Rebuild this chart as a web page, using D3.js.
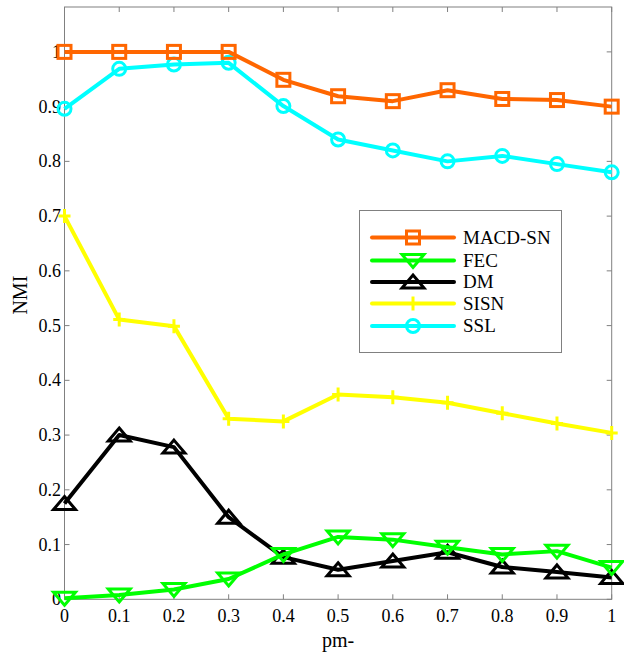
<!DOCTYPE html>
<meta charset="utf-8">
<style>
    body { margin: 0; background: #fff; }
    text { font-family: "Liberation Serif", "Times New Roman", serif; fill: #000; }
</style>
<body>
<script src="https://d3js.org/d3.v7.min.js"></script>
<script>
    var pm = [0, 0.1, 0.2, 0.3, 0.4, 0.5, 0.6, 0.7, 0.8, 0.9, 1];
    var macdsn = [1.0, 1.0, 1.0, 1.0, 0.949, 0.919, 0.910, 0.930, 0.914, 0.912, 0.900];
    var fec = [0.002, 0.008, 0.018, 0.037, 0.082, 0.114, 0.109, 0.095, 0.082, 0.088, 0.058];
    var dm = [0.175, 0.300, 0.278, 0.150, 0.077, 0.054, 0.070, 0.086, 0.059, 0.050, 0.040];
    var sisn = [0.700, 0.511, 0.499, 0.330, 0.325, 0.374, 0.369, 0.359, 0.340, 0.321, 0.304];
    var ssl = [0.896, 0.969, 0.977, 0.980, 0.901, 0.840, 0.820, 0.800, 0.810, 0.795, 0.780];
    var xTicks = [0, 0.1, 0.2, 0.3, 0.4, 0.5, 0.6, 0.7, 0.8, 0.9, 1];
    var yTicks = [0, 0.1, 0.2, 0.3, 0.4, 0.5, 0.6, 0.7, 0.8, 0.9, 1];

    var series = [
        { name: "MACD-SN", values: macdsn, color: "#ff6600", marker: "square" },
        { name: "FEC", values: fec, color: "#00ff00", marker: "down" },
        { name: "DM", values: dm, color: "#000000", marker: "up" },
        { name: "SISN", values: sisn, color: "#ffff00", marker: "plus" },
        { name: "SSL", values: ssl, color: "#00ffff", marker: "circle" }
    ];
    // draw order (FEC sits above DM in the picture)
    var drawOrder = [2, 1, 3, 4, 0];

    var width = 624, height = 654;
    var pLeft = 64.5, pRight = 611.7, pTop = 7, pBottom = 599.3;

    var x = d3.scaleLinear().domain([0, 1]).range([pLeft, pRight]);
    var y = d3.scaleLinear().domain([0, 1.082]).range([pBottom, pTop]);

    var svg = d3.select("body").append("svg")
        .attr("width", width)
        .attr("height", height);

    var axisColor = "#808080";

    // box
    svg.append("rect")
        .attr("x", pLeft).attr("y", pTop)
        .attr("width", pRight - pLeft).attr("height", pBottom - pTop)
        .attr("fill", "none").attr("stroke", axisColor).attr("stroke-width", 1);

    var tickLen = 5;
    var ticks = svg.append("g").attr("stroke", axisColor).attr("stroke-width", 1);
    xTicks.forEach(function (t) {
        ticks.append("line").attr("x1", x(t)).attr("x2", x(t)).attr("y1", pBottom).attr("y2", pBottom - tickLen);
        ticks.append("line").attr("x1", x(t)).attr("x2", x(t)).attr("y1", pTop).attr("y2", pTop + tickLen);
    });
    yTicks.forEach(function (t) {
        ticks.append("line").attr("x1", pLeft).attr("x2", pLeft + tickLen).attr("y1", y(t)).attr("y2", y(t));
        ticks.append("line").attr("x1", pRight).attr("x2", pRight - tickLen).attr("y1", y(t)).attr("y2", y(t));
    });

    svg.append("g").selectAll("text")
        .data(xTicks).enter().append("text")
        .attr("x", function (d) { return x(d); })
        .attr("y", 622)
        .attr("text-anchor", "middle")
        .style("font-size", "18px")
        .text(function (d) { return d; });

    svg.append("g").selectAll("text")
        .data(yTicks).enter().append("text")
        .attr("x", 61)
        .attr("y", function (d) { return y(d); })
        .attr("dy", "0.34em")
        .attr("text-anchor", "end")
        .style("font-size", "18px")
        .text(function (d) { return d; });

    svg.append("text")
        .attr("x", (pLeft + pRight) / 2)
        .attr("y", 647)
        .attr("text-anchor", "middle")
        .style("font-size", "20px")
        .text("pm-");

    svg.append("text")
        .attr("transform", "translate(27," + ((pTop + pBottom) / 2 - 8) + ") rotate(-90)")
        .attr("text-anchor", "middle")
        .style("font-size", "20px")
        .text("NMI");

    function drawMarker(g, type, cx, cy, color) {
        var m;
        if (type === "square") {
            m = g.append("rect").attr("x", cx - 6.5).attr("y", cy - 6.5).attr("width", 13).attr("height", 13);
        } else if (type === "circle") {
            m = g.append("circle").attr("cx", cx).attr("cy", cy).attr("r", 6.5);
        } else if (type === "up") {
            m = g.append("path").attr("d", "M" + cx + "," + (cy - 7) + "L" + (cx + 11) + "," + (cy + 6) + "L" + (cx - 11) + "," + (cy + 6) + "Z");
        } else if (type === "down") {
            m = g.append("path").attr("d", "M" + cx + "," + (cy + 7) + "L" + (cx + 11) + "," + (cy - 6) + "L" + (cx - 11) + "," + (cy - 6) + "Z");
        } else {
            m = g.append("path").attr("d", "M" + (cx - 6) + "," + cy + "H" + (cx + 6) + "M" + cx + "," + (cy - 7) + "V" + (cy + 7));
        }
        m.attr("fill", "none").attr("stroke", color).attr("stroke-width", 3);
    }

    var line = d3.line()
        .x(function (d, i) { return x(pm[i]); })
        .y(function (d) { return y(d); });

    drawOrder.forEach(function (k) {
        var s = series[k];
        var g = svg.append("g");
        g.append("path")
            .attr("d", line(s.values))
            .attr("fill", "none")
            .attr("stroke", s.color)
            .attr("stroke-width", 4)
            .attr("stroke-linejoin", "round");
        s.values.forEach(function (v, i) {
            drawMarker(g, s.marker, x(pm[i]), y(v), s.color);
        });
    });

    // legend
    var lg = svg.append("g");
    lg.append("rect")
        .attr("x", 359.5).attr("y", 210.5)
        .attr("width", 202).attr("height", 142)
        .attr("fill", "#fff").attr("stroke", axisColor).attr("stroke-width", 1);
    var rowY = [237.5, 260.5, 282, 303.5, 326];
    series.forEach(function (s, i) {
        var ry = rowY[i];
        lg.append("line")
            .attr("x1", 372).attr("x2", 454).attr("y1", ry).attr("y2", ry)
            .attr("stroke", s.color).attr("stroke-width", 4).attr("stroke-linecap", "round");
        drawMarker(lg, s.marker, 413, ry, s.color);
        lg.append("text")
            .attr("x", 463)
            .attr("y", ry)
            .attr("dy", "0.34em")
            .style("font-size", "19px")
            .text(s.name);
    });
</script>
</body>
